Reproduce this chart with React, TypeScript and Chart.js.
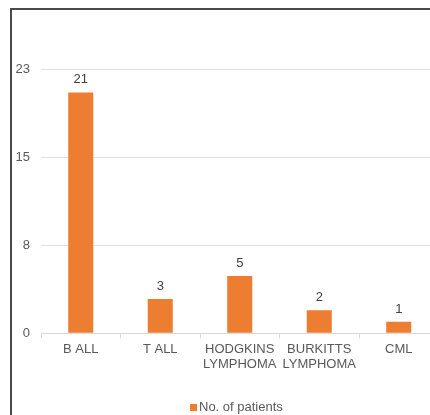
import React, { useEffect, useRef } from "react";
import { Chart, registerables } from "chart.js";

Chart.register(...registerables);

const categories: (string | string[])[] = [
  "B ALL",
  "T ALL",
  ["HODGKINS", "LYMPHOMA"],
  ["BURKITTS", "LYMPHOMA"],
  "CML",
];
const patients: number[] = [21, 3, 5, 2, 1];
const seriesLabel = "No. of patients";
const yTickLabels: string[] = ["0", "8", "15", "23"];

const FONT = "'Liberation Sans', Arial, sans-serif";
const BAR_COLOR = "#ED7D31";

const valueLabelPlugin = {
  id: "valueLabels",
  afterDatasetsDraw(chart: any) {
    const ctx = chart.ctx;
    ctx.save();
    ctx.font = `13px ${FONT}`;
    ctx.fillStyle = "#404040";
    ctx.textAlign = "center";
    ctx.textBaseline = "alphabetic";
    chart.data.datasets.forEach((ds: any, di: number) => {
      const meta = chart.getDatasetMeta(di);
      meta.data.forEach((bar: any, i: number) => {
        ctx.fillText(String(ds.data[i]), bar.x, bar.y - 9);
      });
    });
    ctx.restore();
  },
};

const legendPlugin = {
  id: "customLegend",
  afterDraw(chart: any) {
    const ctx = chart.ctx;
    const ds = chart.data.datasets[0];
    ctx.save();
    ctx.fillStyle = ds.backgroundColor;
    ctx.fillRect(190, 404, 7, 7);
    ctx.font = `13px ${FONT}`;
    ctx.fillStyle = "#595959";
    ctx.textAlign = "left";
    ctx.textBaseline = "middle";
    ctx.fillText(ds.label, 199, 407.5);
    ctx.restore();
  },
};

export default function App() {
  const canvasRef = useRef<HTMLCanvasElement | null>(null);

  useEffect(() => {
    if (!canvasRef.current) return;
    const chart = new Chart(canvasRef.current, {
      type: "bar",
      data: {
        labels: categories,
        datasets: [
          {
            label: seriesLabel,
            data: patients,
            backgroundColor: BAR_COLOR,
            barPercentage: 0.315,
            categoryPercentage: 1,
          },
        ],
      },
      options: {
        responsive: false,
        animation: false,
        devicePixelRatio: 1,
        layout: {
          padding: { left: 11, top: 69.5, right: 21.5, bottom: 36.7 },
        },
        plugins: {
          legend: { display: false },
          tooltip: { enabled: false },
          title: { display: false },
        },
        scales: {
          x: {
            grid: {
              display: true,
              drawOnChartArea: false,
              drawTicks: true,
              tickLength: 5,
              color: "#d9d9d9",
              offset: true,
            },
            border: { display: true, color: "#d9d9d9" },
            ticks: {
              padding: 4,
              color: "#595959",
              font: { family: FONT, size: 13, lineHeight: 1.15 },
              maxRotation: 0,
              autoSkip: false,
            },
            afterFit: (scale: any) => {
              scale.height = 60;
            },
          },
          y: {
            min: 0,
            max: 23,
            grid: {
              color: "#e2e2e2",
              drawTicks: false,
            },
            border: { display: false },
            ticks: {
              count: 4,
              padding: 11,
              color: "#595959",
              font: { family: FONT, size: 13 },
              callback: (_v: any, i: number) => yTickLabels[i],
            },
            afterFit: (scale: any) => {
              scale.width = 30;
            },
          },
        },
      },
      plugins: [valueLabelPlugin, legendPlugin],
    });
    return () => chart.destroy();
  }, []);

  return (
    <div
      style={{
        position: "fixed",
        left: 0,
        top: 0,
        width: 430,
        height: 415,
        overflow: "hidden",
        background: "#fff",
      }}
    >
      <canvas
        ref={canvasRef}
        width={460}
        height={430}
        style={{ display: "block", position: "absolute", left: 0, top: 0 }}
      />
      <div
        style={{
          position: "absolute",
          left: 10,
          top: 8,
          width: 480,
          height: 480,
          borderLeft: "2px solid #4a4a4a",
          borderTop: "2px solid #4a4a4a",
          pointerEvents: "none",
        }}
      />
    </div>
  );
}
